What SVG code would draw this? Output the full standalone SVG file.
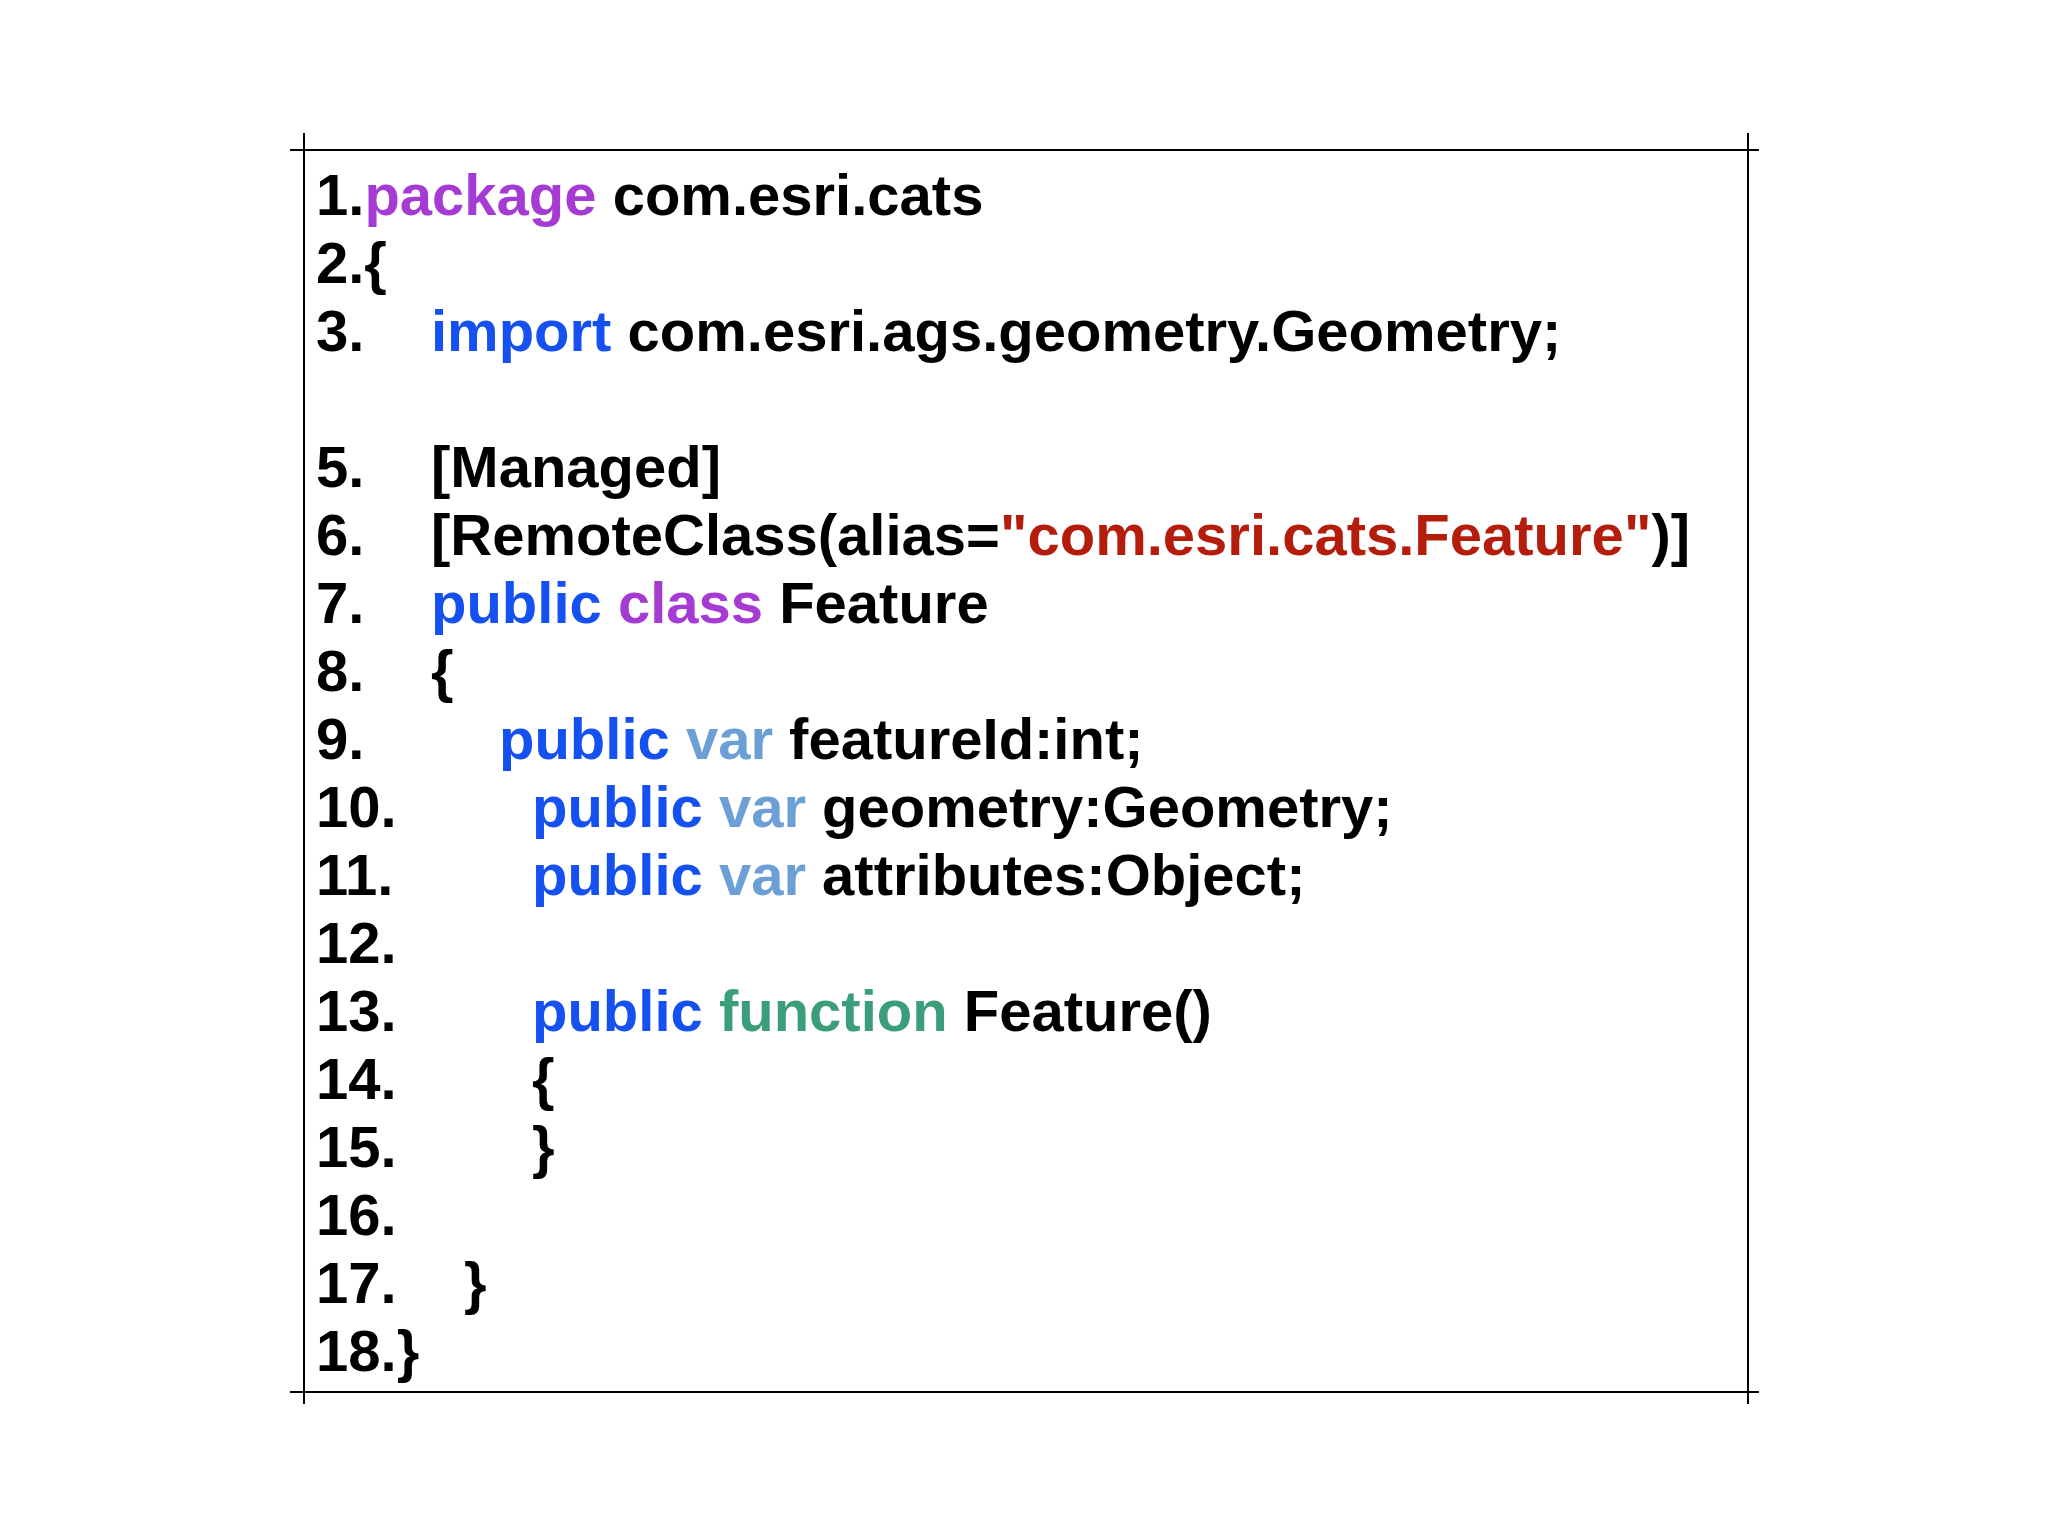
<svg xmlns="http://www.w3.org/2000/svg" width="2048" height="1536" viewBox="0 0 2048 1536">
<style>
text{font-family:"Liberation Sans",Arial,sans-serif;font-weight:bold;font-size:58px;fill:#000}
.p{fill:#a63bd4}.b{fill:#1550f0}.v{fill:#6b9fd6}.g{fill:#3a9e78}.r{fill:#b41c0c}
line{stroke:#000;stroke-width:2}
</style>
<rect width="2048" height="1536" fill="#fff"/>
<g id="frame">
<line x1="290" y1="150" x2="1759" y2="150"/>
<line x1="290" y1="1392" x2="1759" y2="1392"/>
<line x1="304" y1="133" x2="304" y2="1404"/>
<line x1="1748" y1="133" x2="1748" y2="1404"/>
</g>
<g id="code">
<text x="316" y="215">1.<tspan class="p">package</tspan> com.esri.cats</text>
<text x="316" y="283">2.{</text>
<text x="316" y="351">3.</text><text x="431" y="351"><tspan class="b">import</tspan> com.esri.ags.geometry.Geometry;</text>
<text x="316" y="487">5.</text><text x="431" y="487">[Managed]</text>
<text x="316" y="555">6.</text><text x="431" y="555">[RemoteClass(alias=<tspan class="r">"com.esri.cats.Feature"</tspan>)]</text>
<text x="316" y="623">7.</text><text x="431" y="623"><tspan class="b">public</tspan> <tspan class="p">class</tspan> Feature</text>
<text x="316" y="691">8.</text><text x="431" y="691">{</text>
<text x="316" y="759">9.</text><text x="499" y="759"><tspan class="b">public</tspan> <tspan class="v">var</tspan> featureId:int;</text>
<text x="316" y="827">10.</text><text x="532" y="827"><tspan class="b">public</tspan> <tspan class="v">var</tspan> geometry:Geometry;</text>
<text x="316" y="895">11.</text><text x="532" y="895"><tspan class="b">public</tspan> <tspan class="v">var</tspan> attributes:Object;</text>
<text x="316" y="963">12.</text>
<text x="316" y="1031">13.</text><text x="532" y="1031"><tspan class="b">public</tspan> <tspan class="g">function</tspan> Feature()</text>
<text x="316" y="1099">14.</text><text x="532" y="1099">{</text>
<text x="316" y="1167">15.</text><text x="532" y="1167">}</text>
<text x="316" y="1235">16.</text>
<text x="316" y="1303">17.</text><text x="464" y="1303">}</text>
<text x="316" y="1371">18.}</text>
</g>
</svg>
